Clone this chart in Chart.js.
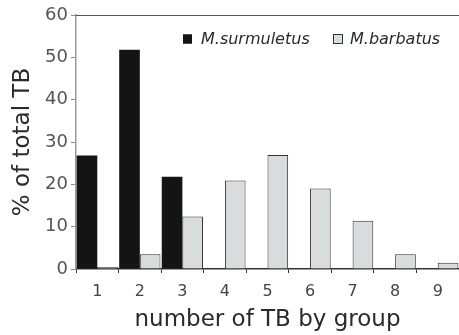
<!DOCTYPE html>
<html>
<head>
<meta charset="utf-8">
<script src="https://cdn.jsdelivr.net/npm/chart.js@4.4.1/dist/chart.umd.min.js"></script>
<style>
html,body{margin:0;padding:0;background:#ffffff;}
#wrap{width:459px;height:335px;position:relative;}
</style>
</head>
<body>
<div id="wrap"><canvas id="c" width="459" height="335"></canvas></div>
<script>
const categories = ['1','2','3','4','5','6','7','8','9'];
const surmuletus = [26.8, 51.8, 21.8, 0, 0, 0, 0, 0, 0];
const barbatus = [0.5, 3.5, 12.4, 20.9, 26.9, 19.0, 11.4, 3.5, 1.5];
const seriesNames = ['M.surmuletus', 'M.barbatus'];
const yTicks = [0, 10, 20, 30, 40, 50, 60];
const xTitle = 'number of TB by group';
const yTitle = '% of total TB';

const FONT = 'DejaVu Sans';

const legendPlugin = {
  id: 'customLegend',
  afterDraw(chart) {
    const ctx = chart.ctx;
    ctx.save();
    ctx.font = 'italic 16px "' + FONT + '"';
    ctx.textBaseline = 'middle';
    ctx.textAlign = 'left';
    const y = 39;
    const items = [
      {x: 183, size: 9, fill: '#141414', stroke: '#141414', text: chart.data.datasets[0].label, tx: 201},
      {x: 333, size: 10, fill: '#d9dcdd', stroke: '#333333', text: chart.data.datasets[1].label, tx: 350}
    ];
    items.forEach(it => {
      ctx.fillStyle = it.fill;
      ctx.fillRect(it.x, y - it.size / 2, it.size, it.size);
      ctx.strokeStyle = it.stroke;
      ctx.lineWidth = 1;
      ctx.strokeRect(it.x + 0.5, y - it.size / 2 + 0.5, it.size - 1, it.size - 1);
      ctx.fillStyle = '#2a2a2a';
      ctx.fillText(it.text, it.tx, y + 1);
    });
    // top frame line
    const ca = chart.chartArea;
    ctx.strokeStyle = '#555555';
    ctx.lineWidth = 1;
    ctx.beginPath();
    ctx.moveTo(ca.left, ca.top + 0.5);
    ctx.lineTo(ca.right, ca.top + 0.5);
    ctx.stroke();
    ctx.restore();
  }
};

new Chart(document.getElementById('c'), {
  type: 'bar',
  data: {
    labels: categories,
    datasets: [
      {
        label: seriesNames[0],
        data: surmuletus,
        backgroundColor: '#141414',
        borderColor: '#141414',
        borderWidth: 0,
        categoryPercentage: 0.97,
        barPercentage: 1.0
      },
      {
        label: seriesNames[1],
        data: barbatus,
        backgroundColor: '#d9dcdd',
        borderColor: '#333333',
        borderWidth: 1,
        borderSkipped: 'bottom',
        categoryPercentage: 0.97,
        barPercentage: 1.0
      }
    ]
  },
  options: {
    responsive: false,
    animation: false,
    devicePixelRatio: 1,
    layout: {padding: {top: 15, right: 0, bottom: 0, left: 0}},
    plugins: {
      legend: {display: false},
      tooltip: {enabled: false}
    },
    scales: {
      x: {
        offset: true,
        afterFit(scale) { scale.height = 66; },
        grid: {
          display: true,
          offset: true,
          drawOnChartArea: false,
          drawTicks: true,
          tickLength: 4,
          color: '#333333',
          lineWidth: 1
        },
        border: {display: true, color: '#333333', width: 1.5},
        ticks: {
          color: '#444444',
          font: {family: FONT, size: 16},
          padding: 9,
          maxRotation: 0
        },
        title: {
          display: true,
          text: xTitle,
          color: '#2a2a2a',
          font: {family: FONT, size: 23},
          padding: {top: 0, bottom: 1}
        }
      },
      y: {
        min: 0,
        max: 60,
        afterFit(scale) { scale.width = 76; },
        afterBuildTicks(scale) { scale.ticks = yTicks.map(v => ({value: v})); },
        grid: {
          display: true,
          drawOnChartArea: false,
          drawTicks: true,
          tickLength: 5,
          color: '#888888',
          lineWidth: 1
        },
        border: {display: true, color: '#999999', width: 1.5},
        ticks: {
          color: '#555555',
          font: {family: FONT, size: 18},
          padding: 3
        },
        title: {
          display: true,
          text: yTitle,
          color: '#2a2a2a',
          font: {family: FONT, size: 23},
          padding: {top: 9, bottom: 0}
        }
      }
    }
  },
  plugins: [legendPlugin]
});
</script>
</body>
</html>
